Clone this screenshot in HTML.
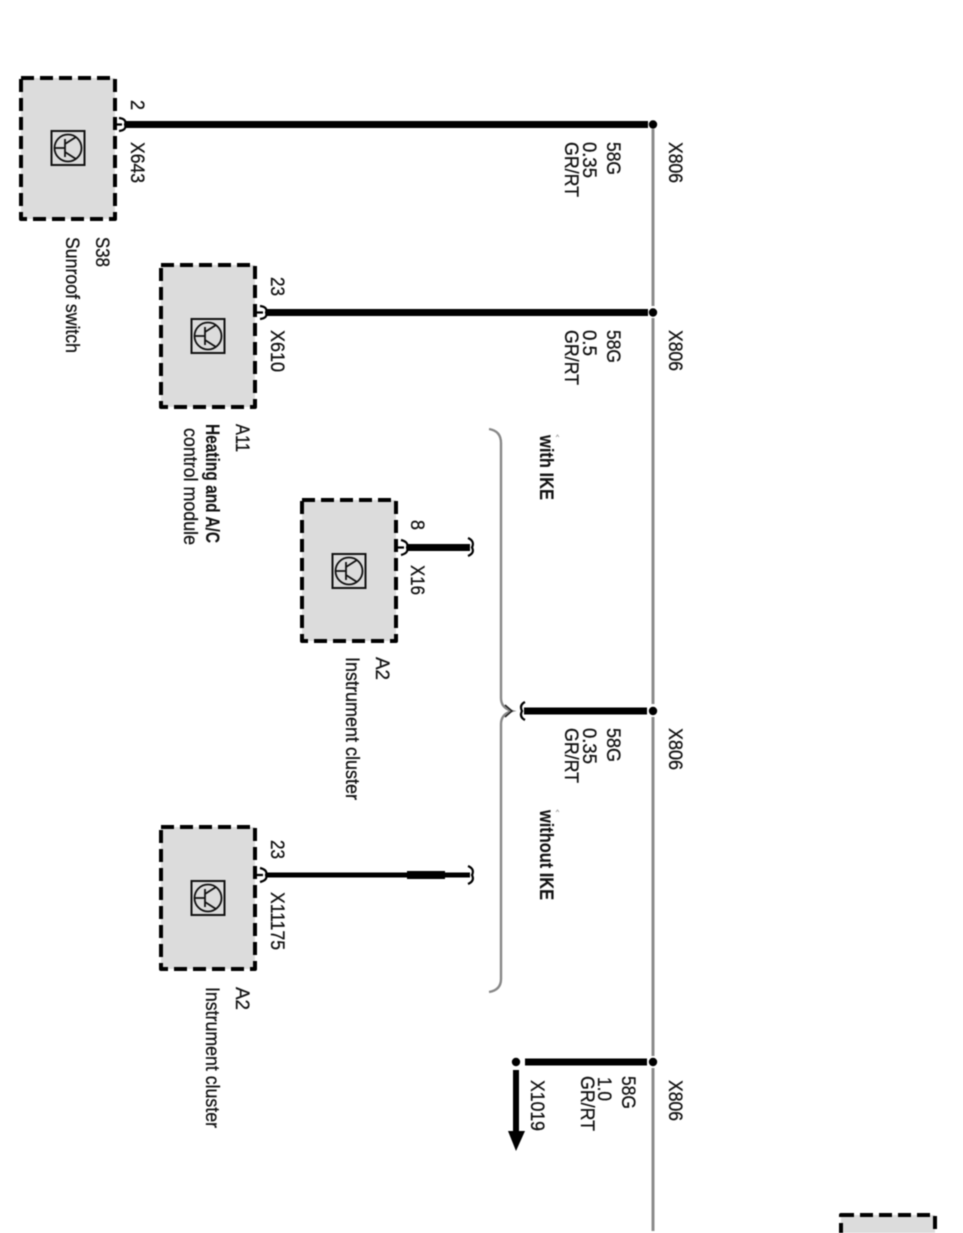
<!DOCTYPE html>
<html lang="en">
<head>
<meta charset="utf-8">
<title>Wiring diagram</title>
<style>
html,body{margin:0;padding:0;background:#fff;width:963px;height:1233px;overflow:hidden}
svg{display:block;filter:blur(.45px)}
text{font-family:"Liberation Sans",sans-serif;font-size:19px;fill:#111;stroke:#111;stroke-width:.3}
.b{font-weight:bold;stroke-width:.1}
.box{fill:#dcdcdc;stroke:#000;stroke-width:4;stroke-dasharray:13 6;stroke-linejoin:round}
.icon{fill:none;stroke:#111;stroke-width:1.8}
.conn{fill:none;stroke:#000;stroke-width:2.2}
.wire{stroke:#000;fill:none}
.gray{stroke:#8c8c8c;stroke-width:3;fill:none}
</style>
</head>
<body>
<svg width="963" height="1233" viewBox="0 0 963 1233" xmlns="http://www.w3.org/2000/svg">
<defs>
<g id="ic">
<rect x="-16.5" y="-17" width="33" height="34" class="icon" style="stroke-width:2"/>
<circle cx="0" cy="0" r="13.5" class="icon"/>
<path class="icon" d="M-13 0H-3M-3 -9V9M-3 -4L8 -11M-3 4L8 11"/>
</g>
</defs>

<!-- main gray bus -->
<path class="gray" d="M653 129V306M653 318V704M653 717V1056M653 1068V1231"/>

<!-- brace -->
<path d="M489 429Q501 431 501 443V698Q501 708 512 711Q501 714 501 724V979Q501 990 489 992" fill="none" stroke="#888" stroke-width="2.4"/>
<path d="M505 705L512 711L505 717" fill="none" stroke="#222" stroke-width="1.5"/>

<!-- boxes -->
<rect class="box" x="21" y="78" width="94" height="141"/>
<rect class="box" x="161" y="265" width="94" height="142"/>
<rect class="box" x="302" y="500" width="94" height="141"/>
<rect class="box" x="161" y="827" width="94" height="142"/>
<rect class="box" x="841" y="1215" width="94" height="40"/>

<use href="#ic" x="68" y="148"/>
<use href="#ic" x="208" y="336"/>
<use href="#ic" x="349" y="571"/>
<use href="#ic" x="208" y="898"/>

<!-- wires -->
<path class="wire" stroke-width="7" d="M126 124.500H648"/>
<path class="wire" stroke-width="7" d="M267 312.500H648"/>
<path class="wire" stroke-width="7" d="M407 547.500H470"/>
<path class="wire" stroke-width="7" d="M524 711H647"/>
<path class="wire" stroke-width="5" d="M267 875H470"/>
<path class="wire" stroke-width="8" d="M407 875H445"/>
<path class="wire" stroke-width="7" d="M525 1062H647"/>
<path class="wire" stroke-width="6" d="M516 1070V1132"/>
<path d="M508 1131H525L516 1151Z" fill="#000"/>

<!-- dots -->
<circle cx="653" cy="124.500" r="4.200" fill="#000"/>
<circle cx="653" cy="312.500" r="4.200" fill="#000"/>
<circle cx="653" cy="711" r="4.200" fill="#000"/>
<circle cx="653" cy="1062" r="4.200" fill="#000"/>
<circle cx="516" cy="1062" r="4.200" fill="#000"/>

<!-- connector symbols -->
<path class="conn" d="M115 124.500H122M119 118Q127 119 125 124.500Q127 130 119 131"/>
<path class="conn" d="M256 312.500H263M260 306Q268 307 266 312.500Q268 318 260 319"/>
<path class="conn" d="M397 547.500H404M401 540Q409 542 407 547.500Q409 553 401 555"/>
<path class="conn" d="M256 875H263M260 868Q268 870 266 875Q268 880 260 882"/>
<path class="conn" d="M468 538Q475 541 472 547.500Q475 553 468 556"/>
<path class="conn" d="M468 866Q475 869 472 875Q475 881 468 884"/>
<path class="conn" d="M525 702Q519 705 522 711Q519 717 525 720"/>

<!-- tiny marks -->
<path d="M556 437l1.500 -2l1.500 2" fill="none" stroke="#aaa" stroke-width="1"/>
<path d="M556 812l1.500 -2l1.500 2" fill="none" stroke="#aaa" stroke-width="1"/>

<!-- labels: rotated 90deg clockwise -->
<g>
<text transform="translate(131,100) rotate(90)" textLength="10" lengthAdjust="spacingAndGlyphs">2</text>
<text transform="translate(131,142) rotate(90)" textLength="41" lengthAdjust="spacingAndGlyphs">X643</text>
<text transform="translate(96,237) rotate(90)" textLength="30" lengthAdjust="spacingAndGlyphs">S38</text>
<text transform="translate(66,237) rotate(90)" textLength="116" lengthAdjust="spacingAndGlyphs">Sunroof switch</text>
<text transform="translate(607,142) rotate(90)" textLength="33" lengthAdjust="spacingAndGlyphs">58G</text>
<text transform="translate(583,142) rotate(90)" textLength="36" lengthAdjust="spacingAndGlyphs">0.35</text>
<text transform="translate(565,142) rotate(90)" textLength="55" lengthAdjust="spacingAndGlyphs">GR/RT</text>
<text transform="translate(669,142) rotate(90)" textLength="41" lengthAdjust="spacingAndGlyphs">X806</text>

<text transform="translate(271,277) rotate(90)" textLength="19" lengthAdjust="spacingAndGlyphs">23</text>
<text transform="translate(271,330) rotate(90)" textLength="42" lengthAdjust="spacingAndGlyphs">X610</text>
<text transform="translate(236,424) rotate(90)" textLength="28" lengthAdjust="spacingAndGlyphs">A11</text>
<text class="b" transform="translate(206,424) rotate(90)" textLength="119" lengthAdjust="spacingAndGlyphs">Heating and A/C</text>
<text transform="translate(184,428) rotate(90)" textLength="117" lengthAdjust="spacingAndGlyphs">control module</text>
<text transform="translate(607,330) rotate(90)" textLength="33" lengthAdjust="spacingAndGlyphs">58G</text>
<text transform="translate(583,330) rotate(90)" textLength="26" lengthAdjust="spacingAndGlyphs">0.5</text>
<text transform="translate(565,330) rotate(90)" textLength="55" lengthAdjust="spacingAndGlyphs">GR/RT</text>
<text transform="translate(669,330) rotate(90)" textLength="41" lengthAdjust="spacingAndGlyphs">X806</text>

<text class="b" transform="translate(540,435) rotate(90)" textLength="65" lengthAdjust="spacingAndGlyphs">with IKE</text>
<text class="b" transform="translate(540,810) rotate(90)" textLength="90" lengthAdjust="spacingAndGlyphs">without IKE</text>

<text transform="translate(411,520) rotate(90)" textLength="10" lengthAdjust="spacingAndGlyphs">8</text>
<text transform="translate(411,565) rotate(90)" textLength="30" lengthAdjust="spacingAndGlyphs">X16</text>
<text transform="translate(376,657) rotate(90)" textLength="23" lengthAdjust="spacingAndGlyphs">A2</text>
<text transform="translate(346,657) rotate(90)" textLength="143" lengthAdjust="spacingAndGlyphs">Instrument cluster</text>

<text transform="translate(607,728) rotate(90)" textLength="34" lengthAdjust="spacingAndGlyphs">58G</text>
<text transform="translate(583,728) rotate(90)" textLength="36" lengthAdjust="spacingAndGlyphs">0.35</text>
<text transform="translate(565,728) rotate(90)" textLength="55" lengthAdjust="spacingAndGlyphs">GR/RT</text>
<text transform="translate(669,728) rotate(90)" textLength="42" lengthAdjust="spacingAndGlyphs">X806</text>

<text transform="translate(271,840) rotate(90)" textLength="19" lengthAdjust="spacingAndGlyphs">23</text>
<text transform="translate(271,892) rotate(90)" textLength="58" lengthAdjust="spacingAndGlyphs">X11175</text>
<text transform="translate(236,987) rotate(90)" textLength="23" lengthAdjust="spacingAndGlyphs">A2</text>
<text transform="translate(206,987) rotate(90)" textLength="141" lengthAdjust="spacingAndGlyphs">Instrument cluster</text>

<text transform="translate(622,1076) rotate(90)" textLength="33" lengthAdjust="spacingAndGlyphs">58G</text>
<text transform="translate(598,1077) rotate(90)" textLength="24" lengthAdjust="spacingAndGlyphs">1.0</text>
<text transform="translate(581,1076) rotate(90)" textLength="55" lengthAdjust="spacingAndGlyphs">GR/RT</text>
<text transform="translate(669,1080) rotate(90)" textLength="41" lengthAdjust="spacingAndGlyphs">X806</text>
<text transform="translate(531,1080) rotate(90)" textLength="51" lengthAdjust="spacingAndGlyphs">X1019</text>
</g>
</svg>
</body>
</html>
